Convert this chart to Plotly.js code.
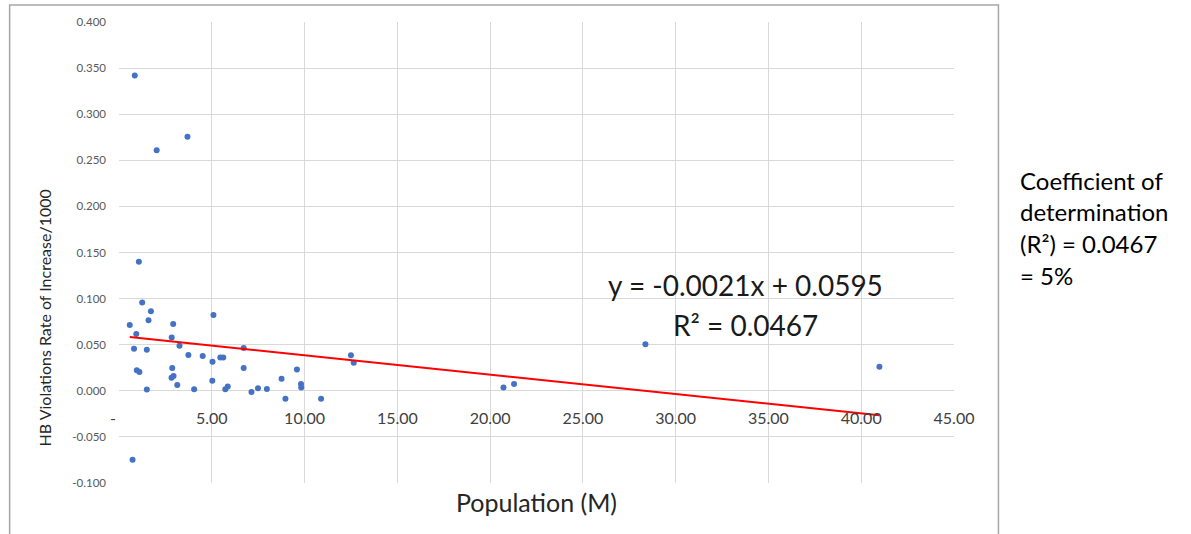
<!DOCTYPE html>
<html>
<head>
<meta charset="utf-8">
<script src="https://cdn.plot.ly/plotly-3.0.1.min.js"></script>
<style>html,body{margin:0;padding:0;background:#fff;}#chart{width:1191px;height:534px;}</style>
</head>
<body>
<div id="chart"></div>
<script>
// Population (M) for each state
const population = [0.58, 1.07, 1.25, 1.72, 1.59, 0.93, 0.81, 1.50, 0.96, 1.10, 1.50, 0.73,
  2.92, 2.84, 3.26, 3.74, 2.87, 2.83, 2.94, 3.14, 4.05, 4.51, 5.09, 5.04, 5.03, 5.46, 5.62,
  5.73, 5.86, 6.72, 6.72, 7.14, 7.49, 7.97, 8.76, 8.97, 9.59, 9.81, 9.82, 10.89, 12.50, 12.65,
  20.72, 21.29, 28.37, 40.98, 0.85, 2.03, 3.69];
// HB violations rate of increase / 1000
const rate = [0.0715, 0.140, 0.0957, 0.0862, 0.0766, 0.0615, 0.0455, 0.0444, 0.0222, 0.0203, 0.0013, -0.0748,
  0.0724, 0.0578, 0.0488, 0.0387, 0.0247, 0.0141, 0.0160, 0.0063, 0.0018, 0.0377, 0.0821, 0.0314, 0.0108, 0.0360, 0.0360,
  0.0018, 0.0046, 0.0464, 0.0246, -0.0014, 0.0029, 0.0020, 0.0132, -0.0087, 0.0230, 0.0073, 0.0036, -0.0087, 0.0385, 0.0303,
  0.0036, 0.0073, 0.0506, 0.0260, 0.342, 0.261, 0.2756];
// Linear trendline end points (y = -0.0021x + 0.0595)
const trendX = [0.58, 40.98];
const trendY = [0.0583, -0.0266];

const xTickVals = [0, 5, 10, 15, 20, 25, 30, 35, 40, 45];
const xTickText = ["-\u00a0\u00a0\u00a0", "5.00", "10.00", "15.00", "20.00", "25.00", "30.00", "35.00", "40.00", "45.00"];
const yTickVals = [-0.1, -0.05, 0, 0.05, 0.1, 0.15, 0.2, 0.25, 0.3, 0.35, 0.4];
const yTickText = ["-0.100", "-0.050", "0.000", "0.050", "0.100", "0.150", "0.200", "0.250", "0.300", "0.350", "0.400"];

const xTitle = "Population (M)";
const yTitle = "HB Violations Rate of Increase/1000";
const equationText = "y = -0.0021x + 0.0595";
const r2Text = "R² = 0.0467";
const noteLines = ["Coefficient of", "determination", "(R²) = 0.0467", "= 5%"];

const FONT = "Lato, 'Open Sans', sans-serif";

const traces = [
  {
    x: population, y: rate, type: "scatter", mode: "markers",
    marker: {color: "#4472C4", size: 6},
    hoverinfo: "x+y", showlegend: false
  },
  {
    x: trendX, y: trendY, type: "scatter", mode: "lines",
    line: {color: "#FF0000", width: 2},
    hoverinfo: "skip", showlegend: false
  }
];

const L = 118.5, R = 236.5, T = 22, B = 50.7, W = 1191, H = 534;
const pw = W - L - R, ph = H - T - B;
const px = v => (v - L) / pw;
const py = v => (H - B - v) / ph;

const annotations = [
  {xref: "paper", yref: "paper", x: px(745.5), y: py(285), text: equationText, showarrow: false,
   xanchor: "center", yanchor: "middle", font: {family: FONT, size: 28, color: "#1a1a1a"}},
  {xref: "paper", yref: "paper", x: px(745.5), y: py(325), text: r2Text, showarrow: false,
   xanchor: "center", yanchor: "middle", font: {family: FONT, size: 28, color: "#1a1a1a"}},
  {xref: "paper", yref: "paper", x: px(44), y: py(318), text: yTitle, showarrow: false, textangle: -90,
   xanchor: "center", yanchor: "middle", font: {family: FONT, size: 16, color: "#262626"}}
];
const noteY = [181, 212, 244, 276];
noteLines.forEach((t, i) => annotations.push({
  xref: "paper", yref: "paper", x: px(1019), y: py(noteY[i]), text: t, showarrow: false,
  xanchor: "left", yanchor: "middle", font: {family: FONT, size: 24, color: "#000000"}
}));

const layout = {
  width: W, height: H,
  margin: {l: L, r: R, t: T, b: B, pad: 0},
  paper_bgcolor: "#ffffff", plot_bgcolor: "#ffffff",
  font: {family: FONT},
  xaxis: {
    range: [0, 45], tickvals: xTickVals, ticktext: xTickText,
    showgrid: true, gridcolor: "#d9d9d9", gridwidth: 1, zeroline: false, showline: false,
    ticks: "", anchor: "free", position: 0.2, ticklabelstandoff: 16,
    tickfont: {family: FONT, size: 16, color: "#404040"},
    title: {text: xTitle, standoff: 68, font: {family: FONT, size: 25, color: "#262626"}},
    automargin: false, fixedrange: true
  },
  yaxis: {
    range: [-0.1, 0.4], tickvals: yTickVals, ticktext: yTickText,
    showgrid: true, gridcolor: "#d9d9d9", gridwidth: 1, zeroline: false, showline: false,
    ticks: "", ticklabelstandoff: 12,
    tickfont: {family: FONT, size: 11.5, color: "#595959"},
    automargin: false, fixedrange: true
  },
  shapes: [{
    type: "rect", xref: "paper", yref: "paper",
    x0: px(9), x1: px(999), y0: py(560), y1: py(5),
    line: {color: "#a6a6a6", width: 1.5}, fillcolor: "rgba(0,0,0,0)", layer: "above"
  }],
  annotations: annotations,
  showlegend: false
};

Plotly.newPlot("chart", traces, layout, {displayModeBar: false, staticPlot: true});
</script>
</body>
</html>
